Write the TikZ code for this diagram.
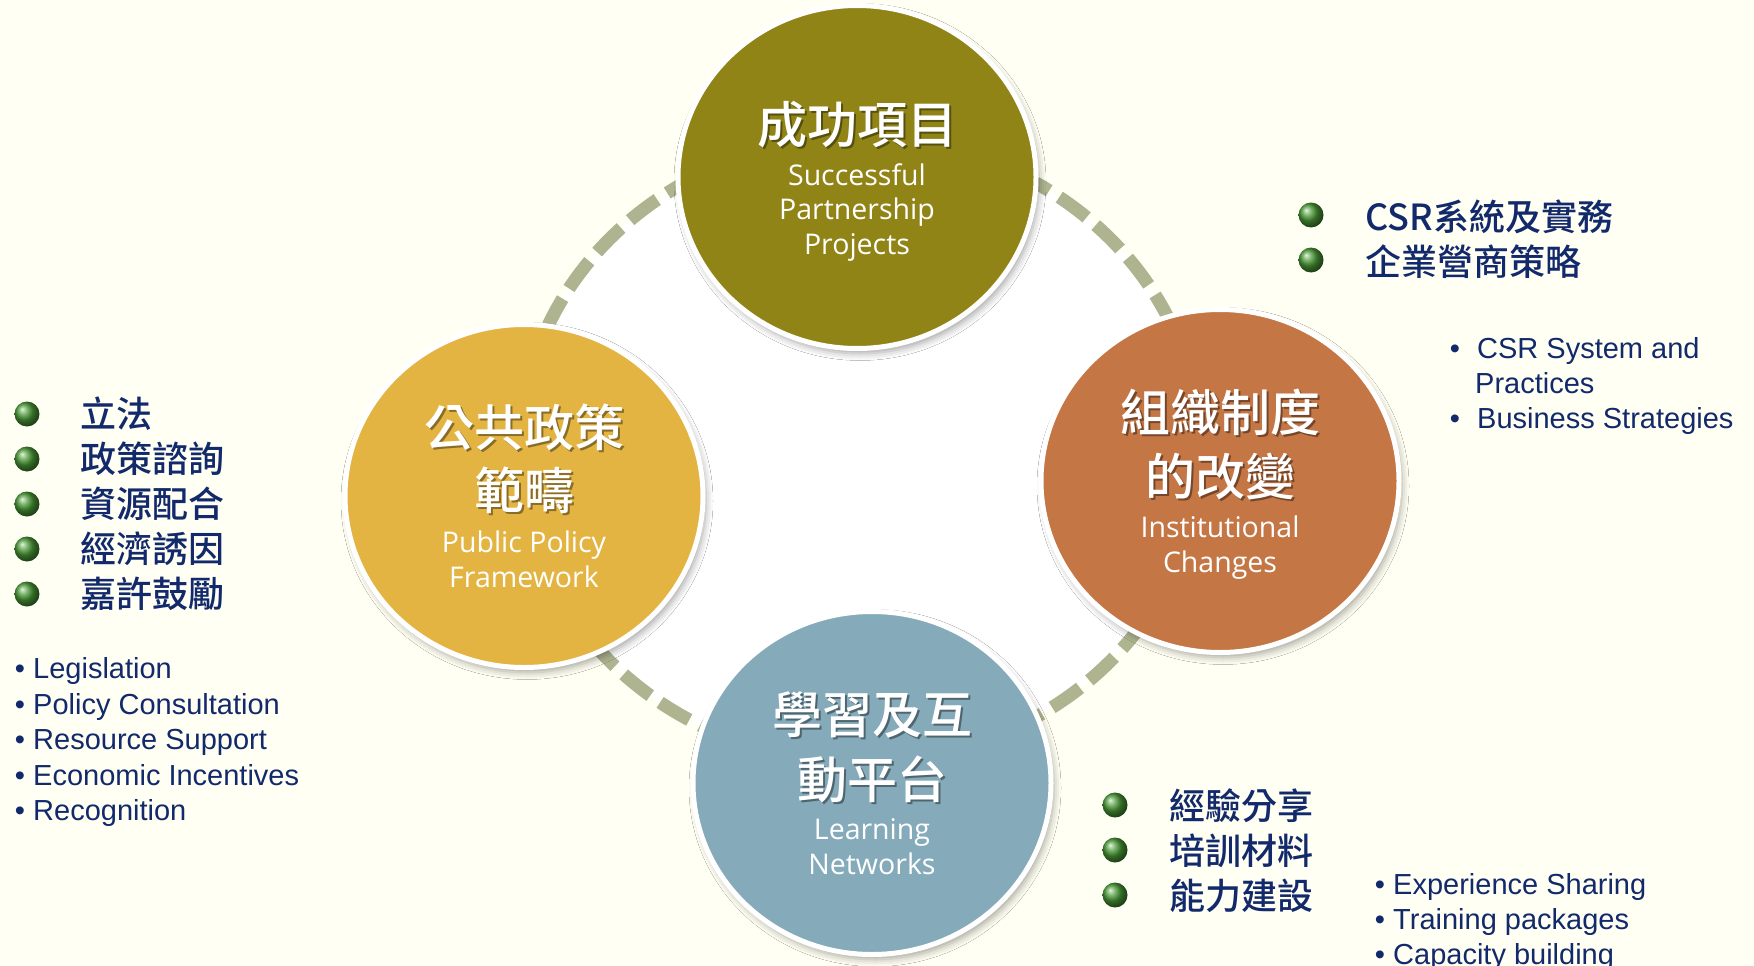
\documentclass[tikz,border=0pt]{standalone}
\usepackage{fontspec}
\setmainfont{Liberation Sans}
\newfontfamily\cjk{Noto Sans CJK TC Medium}
\newfontfamily\seg{Open Sans}
\usetikzlibrary{shapes.geometric,shadows.blur}
\definecolor{bgc}{HTML}{FFFFF3}
\definecolor{ringc}{HTML}{ADB48F}
\definecolor{topc}{HTML}{918417}
\definecolor{leftc}{HTML}{E3B441}
\definecolor{rightc}{HTML}{C47645}
\definecolor{botc}{HTML}{85ABBB}
\definecolor{navy}{HTML}{12296B}
\definecolor{ballg}{HTML}{4A9A36}
\tikzset{
 bubble/.style={ellipse, draw=white, line width=5pt, minimum width=358pt, minimum height=343pt, inner sep=0pt,
   blur shadow={shadow xshift=3pt, shadow yshift=-5pt, shadow blur radius=7pt, shadow opacity=35}},
 ttl/.style={font=\cjk\fontsize{50}{56}\selectfont, text=white, inner sep=0pt},
 ttlsh/.style={font=\cjk\fontsize{50}{56}\selectfont, text=black, text opacity=0.4, inner sep=0pt},
 eng/.style={font=\seg\fontsize{28.5}{34}\selectfont, text=white, inner sep=0pt, anchor=base},
 cjkitem/.style={font=\cjk\fontsize{36}{40}\selectfont, text=navy, inner sep=0pt, anchor=west},
 enitem/.style={font=\fontsize{29}{35}\selectfont, text=navy, inner sep=0pt, anchor=base west},
 bul/.style={font=\fontsize{29}{35}\selectfont, text=navy, inner sep=0pt, anchor=base},
 gball/.style={circle, minimum size=25pt, inner sep=0pt, shading=ball, ball color=ballg},
 ringline/.style={draw=ringc, fill=white, line width=13pt, dash pattern=on 34pt off 12pt},
}
\begin{document}
\begin{tikzpicture}[x=1pt,y=-1pt]
\useasboundingbox (0,0) rectangle (1754,966);
\fill[bgc] (0,0) rectangle (1754,966);
% dashed ring
\draw[ringline] (860,450) ellipse [x radius=340, y radius=312];
% bubbles
\node[bubble, fill=topc] (top) at (857,177) {};
\node[bubble, fill=leftc] (left) at (524,496) {};
\node[bubble, fill=rightc] (right) at (1220,481) {};
\node[bubble, fill=botc] (bot) at (872,783) {};
% top texts
\node[ttlsh] (t1s) at (859,126.5) {成功項目};
\node[ttl] (t1) at (857,124.5) {成功項目};
\node[eng] (t2) at (857,185) {Successful};
\node[eng] (t3) at (857,219.5) {Partnership};
\node[eng] (t4) at (857,254) {Projects};
% left texts
\node[ttlsh] (l1s) at (526,429.5) {公共政策};
\node[ttl] (l1) at (524,427.5) {公共政策};
\node[ttlsh] (l2s) at (526,492.5) {範疇};
\node[ttl] (l2) at (524,490.5) {範疇};
\node[eng] (l3) at (524,552) {Public Policy};
\node[eng] (l4) at (524,587) {Framework};
% right texts
\node[ttlsh] (r1s) at (1222,414.5) {組織制度};
\node[ttl] (r1) at (1220,412.5) {組織制度};
\node[ttlsh] (r2s) at (1222,479) {的改變};
\node[ttl] (r2) at (1220,477) {的改變};
\node[eng] (r3) at (1220,537) {Institutional};
\node[eng] (r4) at (1220,572) {Changes};
% bottom texts
\node[ttlsh] (b1s) at (874,717) {學習及互};
\node[ttl] (b1) at (872,715) {學習及互};
\node[ttlsh] (b2s) at (874,781.5) {動平台};
\node[ttl] (b2) at (872,779.5) {動平台};
\node[eng] (b3) at (872,839) {Learning};
\node[eng] (b4) at (872,874) {Networks};
% left lists
\node[gball] (lg1) at (27,414) {};
\node[gball] (lg2) at (27,459) {};
\node[gball] (lg3) at (27,504) {};
\node[gball] (lg4) at (27,549) {};
\node[gball] (lg5) at (27,594) {};
\node[cjkitem] (lc1) at (80,414) {立法};
\node[cjkitem] (lc2) at (80,459) {政策諮詢};
\node[cjkitem] (lc3) at (80,504) {資源配合};
\node[cjkitem] (lc4) at (80,549) {經濟誘因};
\node[cjkitem] (lc5) at (80,594) {嘉許鼓勵};
\node[bul] (lb1) at (20,678) {•};
\node[bul] (lb2) at (20,714) {•};
\node[bul] (lb3) at (20,749.5) {•};
\node[bul] (lb4) at (20,785) {•};
\node[bul] (lb5) at (20,820) {•};
\node[enitem] (le1) at (33,678) {Legislation};
\node[enitem] (le2) at (33,714) {Policy Consultation};
\node[enitem] (le3) at (33,749.5) {Resource Support};
\node[enitem] (le4) at (33,785) {Economic Incentives};
\node[enitem] (le5) at (33,820) {Recognition};
% top right lists
\node[gball] (rg1) at (1311,215) {};
\node[gball] (rg2) at (1311,260) {};
\node[cjkitem] (rc1) at (1365,217) {CSR系統及實務};
\node[cjkitem] (rc2) at (1365,262) {企業營商策略};
\node[bul] (rb1) at (1455,358) {•};
\node[bul] (rb2) at (1455,428) {•};
\node[enitem] (re1) at (1477,358) {CSR System and};
\node[enitem] (re2) at (1475,393) {Practices};
\node[enitem] (re3) at (1477,428) {Business Strategies};
% bottom right lists
\node[gball] (bg1) at (1115,805) {};
\node[gball] (bg2) at (1115,850) {};
\node[gball] (bg3) at (1115,895) {};
\node[cjkitem] (bc1) at (1169,806) {經驗分享};
\node[cjkitem] (bc2) at (1169,851) {培訓材料};
\node[cjkitem] (bc3) at (1169,896) {能力建設};
\node[bul] (bb1) at (1380,894) {•};
\node[bul] (bb2) at (1380,929) {•};
\node[bul] (bb3) at (1380,964) {•};
\node[enitem] (be1) at (1393,894) {Experience Sharing};
\node[enitem] (be2) at (1393,929) {Training packages};
\node[enitem] (be3) at (1393,964) {Capacity building};
\end{tikzpicture}
\end{document}
